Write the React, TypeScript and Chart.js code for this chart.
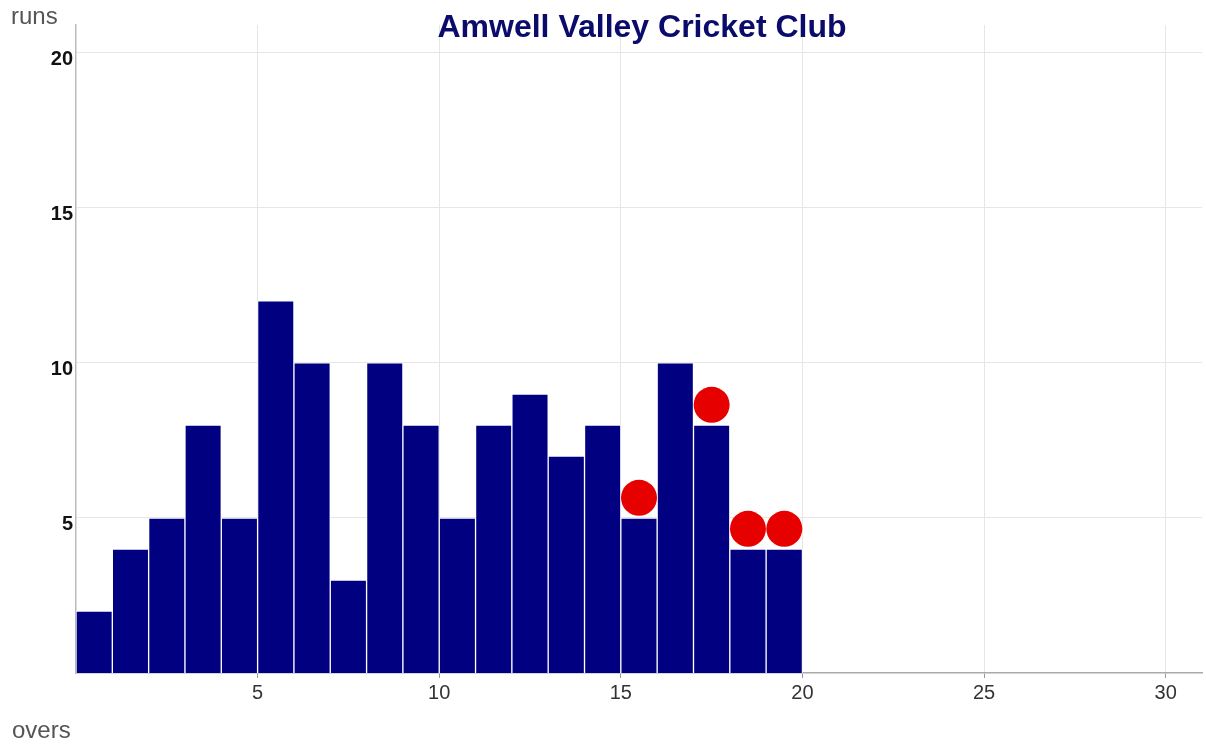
import React, { useEffect, useRef } from "react";
import { Chart, registerables } from "chart.js";

Chart.register(...registerables);

const TITLE = "Amwell Valley Cricket Club";
const X_LABEL = "overs";
const Y_LABEL = "runs";

const overs = [1, 2, 3, 4, 5, 6, 7, 8, 9, 10, 11, 12, 13, 14, 15, 16, 17, 18, 19, 20];
const runs = [2, 4, 5, 8, 5, 12, 10, 3, 10, 8, 5, 8, 9, 7, 8, 5, 10, 8, 4, 4];

const wicketOvers = [16, 18, 19, 20];
const wicketHeights = [5.65, 8.65, 4.65, 4.65];

const xTicks = [5, 10, 15, 20, 25, 30];
const yTicks = [5, 10, 15, 20];

const textPlugin = {
  id: "texts",
  afterDraw(chart: any) {
    const ctx = chart.ctx;
    const ca = chart.chartArea;
    ctx.save();
    ctx.fillStyle = "#0b0b6b";
    ctx.font = "bold 32px 'Liberation Sans', Arial, sans-serif";
    ctx.textAlign = "center";
    ctx.textBaseline = "alphabetic";
    ctx.fillText(TITLE, (ca.left + ca.right) / 2 + 3, 37);
    ctx.fillStyle = "#555555";
    ctx.font = "24px 'Liberation Sans', Arial, sans-serif";
    ctx.textAlign = "left";
    ctx.fillText(Y_LABEL, 11, 24);
    ctx.fillText(X_LABEL, 12, 738);
    ctx.restore();
  },
};

export default function App() {
  const ref = useRef<HTMLCanvasElement>(null);
  useEffect(() => {
    document.body.style.margin = "0";
    const barData = overs.map((o, i) => ({ x: o - 0.5, y: runs[i] }));
    const wicketData = wicketOvers.map((o, i) => ({ x: o - 0.5, y: wicketHeights[i] }));
    const chart = new Chart(ref.current!, {
      type: "bar",
      data: {
        datasets: [
          {
            type: "scatter",
            data: wicketData,
            backgroundColor: "#e60000",
            borderWidth: 0,
            pointRadius: 18,
            pointHoverRadius: 18,
            order: 0,
          } as any,
          {
            type: "bar",
            data: barData,
            backgroundColor: "#000080",
            borderColor: "#ffffff",
            borderWidth: 1,
            barPercentage: 1,
            categoryPercentage: 1,
            order: 1,
          } as any,
        ],
      },
      options: {
        animation: false,
        responsive: false,
        maintainAspectRatio: false,
        layout: { autoPadding: false, padding: { top: 25, right: 4, left: 0, bottom: 0 } },
        plugins: { legend: { display: false }, tooltip: { enabled: false }, title: { display: false } },
        scales: {
          x: {
            type: "linear",
            min: 0,
            max: 31,
            offset: false,
            afterBuildTicks: (s: any) => {
              s.ticks = xTicks.map((v) => ({ value: v }));
            },
            afterFit: (s: any) => {
              s.height = 71;
              s.paddingLeft = 0;
              s.paddingRight = 0;
            },
            grid: { color: "#e6e6e6", tickLength: 5, tickColor: "#999999", offset: false },
            border: { display: true, color: "#aaaaaa", width: 1.5 },
            ticks: {
              color: "#333333",
              padding: 3,
              maxRotation: 0,
              font: { size: 20, family: "'Liberation Sans', Arial, sans-serif" },
            },
          },
          y: {
            type: "linear",
            min: 0,
            max: 20.9,
            afterBuildTicks: (s: any) => {
              s.ticks = yTicks.map((v) => ({ value: v }));
            },
            afterFit: (s: any) => {
              s.width = 76;
              s.paddingTop = 0;
              s.paddingBottom = 0;
            },
            grid: { color: "#e6e6e6", drawTicks: false },
            border: { display: true, color: "#bbbbbb", width: 1.5 },
            ticks: {
              color: "#111111",
              padding: 3,
              labelOffset: 7,
              font: { size: 20, weight: "bold", family: "'Liberation Sans', Arial, sans-serif" },
            },
          },
        },
      },
      plugins: [textPlugin],
    } as any);
    return () => chart.destroy();
  }, []);
  return (
    <div style={{ position: "absolute", left: 0, top: 0, width: 1206, height: 744 }}>
      <canvas ref={ref} width={1206} height={744} style={{ display: "block" }} />
    </div>
  );
}
